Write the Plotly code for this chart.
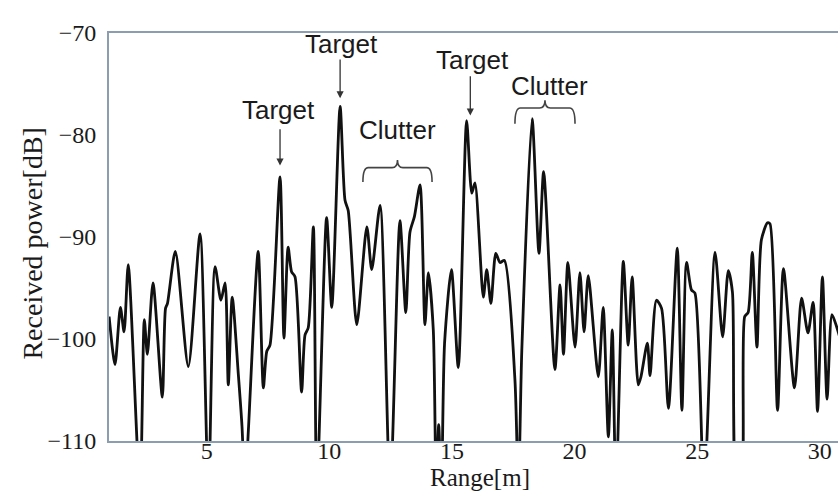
import plotly.graph_objects as go

# Received power profile along range
range_m = [1.02, 1.26, 1.48, 1.63, 1.80, 2.28, 2.455, 2.58, 2.81, 3.19,
           3.32, 3.40, 3.72, 4.25, 4.73, 5.07, 5.34, 5.58, 5.75, 5.88,
           6.04, 6.29, 6.44, 6.56, 6.70, 7.10, 7.31, 7.45, 7.58, 7.99,
           8.15, 8.32, 8.46, 8.60, 8.87, 9.01, 9.14, 9.35, 9.49, 9.89,
           10.10, 10.44, 10.64, 10.77, 11.12, 11.53, 11.73, 12.07, 12.48, 12.88,
           13.12, 13.29, 13.47, 13.70, 13.90, 14.04, 14.24, 14.36, 14.46, 14.57,
           14.70, 14.98, 15.26, 15.60, 15.81, 15.94, 16.28, 16.42, 16.59, 16.79,
           16.96, 17.14, 17.57, 17.71, 17.85, 18.27, 18.55, 18.74, 19.20, 19.41,
           19.55, 19.73, 20.02, 20.22, 20.39, 20.56, 20.97, 21.17, 21.38, 21.54,
           21.69, 21.99, 22.19, 22.35, 22.60, 22.71, 22.97, 23.08, 23.34, 23.55,
           23.83, 24.19, 24.38, 24.57, 24.77, 24.91, 25.28, 25.73, 26.04, 26.27,
           26.44, 26.63, 26.78, 26.94, 27.08, 27.25, 27.44, 27.62, 27.87, 27.97,
           28.28, 28.52, 28.97, 29.26, 29.52, 29.73, 29.91, 30.11, 30.30, 30.50,
           30.69, 30.95]
power_db = [-97.8, -102.5, -96.9, -99.3, -92.7, -115, -98.1, -101.5, -94.5, -105.7,
            -97.0, -96.5, -91.4, -102.7, -89.7, -115, -92.9, -96.2, -94.5, -104.5,
            -95.9, -103.5, -108.6, -115, -108.9, -91.4, -104.8, -101.2, -100.6, -84.1,
            -99.9, -91.0, -93.4, -93.9, -105.2, -99.6, -98.9, -89.0, -115, -88.1,
            -96.9, -77.2, -86.4, -87.4, -98.6, -89.0, -93.2, -86.9, -115, -88.4,
            -97.4, -89.5, -88.0, -84.9, -98.6, -93.5, -99.1, -115, -108.4, -115,
            -100.4, -93.2, -102.8, -78.6, -85.7, -84.7, -95.9, -93.2, -96.5, -91.6,
            -92.5, -92.3, -104.0, -115, -101.1, -78.4, -91.6, -83.6, -103.0, -94.7,
            -101.5, -92.5, -100.8, -93.5, -99.3, -93.8, -103.7, -96.9, -109.6, -99.1,
            -115, -92.4, -100.6, -93.9, -104.5, -103.7, -100.4, -103.6, -96.2, -97.0,
            -106.8, -91.1, -107.0, -92.5, -95.2, -95.5, -115, -91.5, -99.8, -93.3,
            -95.4, -115, -115, -97.8, -97.4, -91.5, -100.8, -90.3, -88.6, -88.7,
            -107.0, -93.1, -104.8, -96.0, -99.4, -96.4, -107.1, -93.9, -105.9, -97.6,
            -98.8, -101.0]

x_ticks = [5, 10, 15, 20, 25, 30]
y_ticks = [-110, -100, -90, -80, -70]

# Labelled targets: label position and arrow (x, start y, tip y)
target_labels = ["Target", "Target", "Target"]
target_text_x = [7.92, 10.48, 15.82]
target_text_y = [-77.5, -71.1, -72.6]
target_arrow_x = [7.99, 10.44, 15.75]
target_arrow_from = [-79.3, -72.45, -74.1]
target_arrow_to = [-83.0, -76.4, -78.1]

# Clutter groups: label position and brace extent
clutter_labels = ["Clutter", "Clutter"]
clutter_text_x = [12.76, 18.96]
clutter_text_y = [-79.5, -75.2]
brace_x0 = [11.37, 17.57]
brace_x1 = [14.19, 20.02]
brace_bar = [-83.2, -77.35]
brace_end = [-84.6, -78.9]
brace_tip = [-82.45, -76.6]

fig = go.Figure()
fig.add_trace(go.Scatter(
    x=range_m, y=power_db, mode="lines",
    line=dict(color="#111111", width=2.8, shape="spline", smoothing=0.7),
    showlegend=False, hoverinfo="skip",
))

ann_font = dict(family="Liberation Sans", size=26, color="#1a1a1a")

for txt, tx, ty, ax_, a0, a1 in zip(target_labels, target_text_x, target_text_y,
                                    target_arrow_x, target_arrow_from, target_arrow_to):
    fig.add_annotation(x=tx, y=ty, text=txt, showarrow=False, font=ann_font,
                       xref="x", yref="y")
    fig.add_annotation(x=ax_, y=a1, ax=ax_, ay=a0, axref="x", ayref="y",
                       xref="x", yref="y", text="", showarrow=True,
                       arrowhead=2, arrowsize=1.1, arrowwidth=1.3,
                       arrowcolor="#333333")

for txt, tx, ty, x0, x1, yb, ye, yt in zip(clutter_labels, clutter_text_x, clutter_text_y,
                                           brace_x0, brace_x1, brace_bar, brace_end, brace_tip):
    fig.add_annotation(x=tx, y=ty, text=txt, showarrow=False, font=ann_font,
                       xref="x", yref="y")
    xc = (x0 + x1) / 2
    dx = 0.22
    path = (f"M {x0},{ye} Q {x0},{yb} {x0 + dx},{yb} "
            f"L {xc - dx},{yb} Q {xc},{yb} {xc},{yt} "
            f"Q {xc},{yb} {xc + dx},{yb} "
            f"L {x1 - dx},{yb} Q {x1},{yb} {x1},{ye}")
    fig.add_shape(type="path", path=path, xref="x", yref="y",
                  line=dict(color="#444444", width=1.6))

axis_line = "#8d9db0"
tick_font = dict(family="Liberation Serif", size=24, color="#1a1a1a")

fig.update_xaxes(
    range=[1.015, 30.745], tickvals=x_ticks, ticks="", showgrid=False, zeroline=False,
    showline=True, linecolor=axis_line, linewidth=2, mirror=True,
    tickfont=tick_font, ticklabelstandoff=-13,
)
fig.update_yaxes(
    range=[-110, -70], tickvals=y_ticks, ticks="", showgrid=False, zeroline=False,
    showline=True, linecolor=axis_line, linewidth=2,
    tickfont=tick_font, ticklabelstandoff=6,
)

fig.add_annotation(text="Range[m]", xref="paper", yref="paper", x=0.509, y=-0.09,
                   xanchor="center", yanchor="middle", showarrow=False,
                   font=dict(family="Liberation Serif", size=25, color="#1a1a1a"))
fig.add_annotation(text="Received power[dB]", xref="paper", yref="paper", x=-0.105, y=0.485,
                   xanchor="center", yanchor="middle", textangle=-90,
                   showarrow=False, font=dict(family="Liberation Serif", size=28, color="#1a1a1a"))

fig.update_layout(
    width=838, height=492,
    margin=dict(l=109, r=0, t=33, b=51),
    plot_bgcolor="white", paper_bgcolor="white",
)

fig.write_html("out.html")
